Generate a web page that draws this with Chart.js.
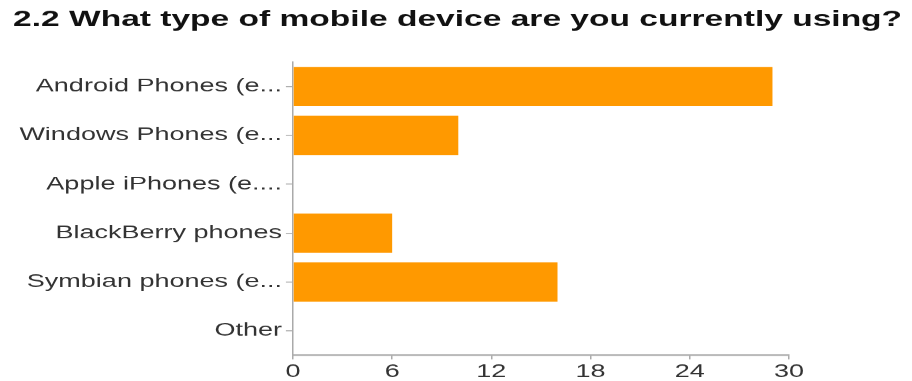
<!DOCTYPE html>
<html>
<head>
<meta charset="utf-8">
<script src="https://cdn.jsdelivr.net/npm/chart.js@4"></script>
<style>
  html, body { margin: 0; padding: 0; background: #fff; overflow: hidden; }
  #wrap { width: 912px; height: 381px; }
  /* la imagen original esta estirada en horizontal, la copiamos asi */
  #grafico { transform: scaleX(1.5); transform-origin: 0 0; }
</style>
</head>
<body>
<div id="wrap"><canvas id="grafico" width="608" height="381"></canvas></div>
<script>
// datos
const categorias = [
    'Android Phones (e...',
    'Windows Phones (e...',
    'Apple iPhones (e....',
    'BlackBerry phones',
    'Symbian phones (e...',
    'Other'
];
const respuestas = [29, 10, 0, 6, 16, 0];
const ticksX = [0, 6, 12, 18, 24, 30];
const titulo = '2.2 What type of mobile device are you currently using?';

const colorEje = '#aaaaaa';
const colorTexto = '#333333';
const escalaX = 1.5;

// titulo dibujado a mano, un poco mas ancho que el resto del texto
const tituloPlugin = {
    id: 'tituloAncho',
    afterDraw(chart) {
        const ctx = chart.ctx;
        const x0 = 8.7;
        const anchoObjetivo = 592.7;
        ctx.save();
        ctx.font = 'bold 22px "Liberation Sans"';
        ctx.fillStyle = '#111111';
        ctx.textAlign = 'left';
        ctx.textBaseline = 'alphabetic';
        const ancho = ctx.measureText(titulo).width;
        ctx.translate(x0, 26);
        ctx.scale(anchoObjetivo / ancho, 1);
        ctx.fillText(titulo, 0, 0);
        ctx.restore();
    }
};

new Chart(document.getElementById('grafico').getContext('2d'), {
    type: 'bar',
    data: {
        labels: categorias,
        datasets: [{
            label: 'Respuestas',
            data: respuestas,
            backgroundColor: '#ff9900',
            borderWidth: 0,
            categoryPercentage: 0.8,
            barPercentage: 1
        }]
    },
    options: {
        indexAxis: 'y',
        responsive: false,
        animation: false,
        devicePixelRatio: escalaX,
        layout: { padding: { left: 8.7, right: 82, top: 62, bottom: 0 } },
        scales: {
            x: {
                min: 0,
                max: 30,
                afterBuildTicks: (scale) => { scale.ticks = ticksX.map(v => ({ value: v })); },
                afterFit: (scale) => { scale.height = 26; },
                grid: { drawOnChartArea: false, color: colorEje, tickLength: 4 },
                border: { color: colorEje, width: 1.5 },
                ticks: {
                    color: colorTexto,
                    padding: 2,
                    maxRotation: 0,
                    font: { family: 'Liberation Sans', size: 18 }
                }
            },
            y: {
                afterFit: (scale) => { scale.width = 195.3 - 8.7; },
                grid: { drawOnChartArea: false, offset: false, color: colorEje, tickLength: 4.7 },
                border: { color: colorEje, width: 1 },
                ticks: {
                    color: colorTexto,
                    padding: 2.6,
                    font: { family: 'Liberation Sans', size: 18 }
                }
            }
        },
        plugins: {
            legend: { display: false },
            tooltip: { enabled: false },
            title: { display: false }
        }
    },
    plugins: [tituloPlugin]
});
</script>
</body>
</html>
